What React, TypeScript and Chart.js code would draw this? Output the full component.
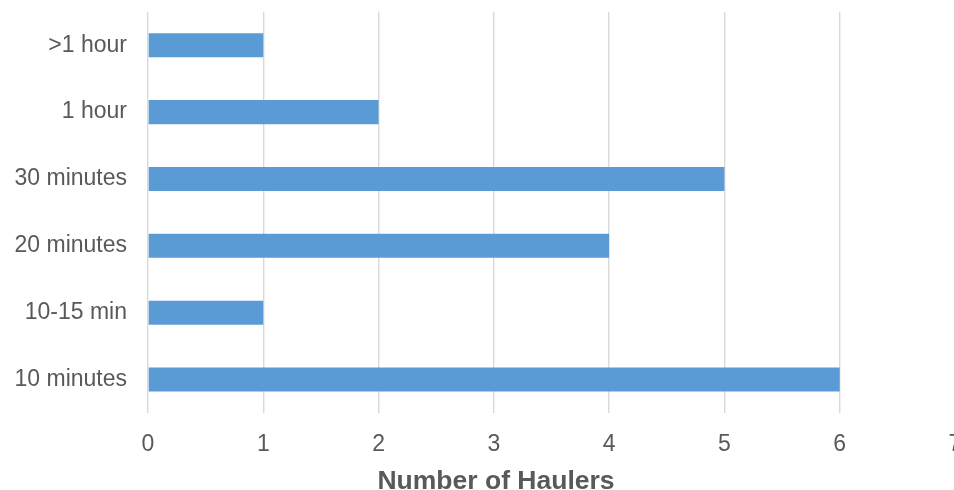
import React, { useEffect, useRef } from "react";
import { Chart, registerables } from "chart.js";

Chart.register(...registerables);

// Wait times (top to bottom) and how many haulers reported each
const categories = [">1 hour", "1 hour", "30 minutes", "20 minutes", "10-15 min", "10 minutes"];
const haulerCounts = [1, 2, 5, 4, 1, 6];
const xMin = 0;
const xMax = 7;
const xStep = 1;
const xTitle = "Number of Haulers";

const CANVAS_W = 1000;
const CANVAS_H = 524;
const CANVAS_TOP = -23;

// Axis title drawn below the tick labels, centred on the visible figure
const axisTitlePlugin = {
  id: "axisTitle",
  afterDraw(chart: any) {
    const ctx = chart.ctx;
    ctx.save();
    ctx.font = "bold 26.5px 'Liberation Sans', Arial, sans-serif";
    ctx.fillStyle = "#595959";
    ctx.textAlign = "center";
    ctx.textBaseline = "alphabetic";
    ctx.fillText(xTitle, 496, 489 - CANVAS_TOP);
    ctx.restore();
  },
};

export default function App() {
  const canvasRef = useRef<HTMLCanvasElement | null>(null);

  useEffect(() => {
    const canvas = canvasRef.current;
    if (!canvas) return;
    const chart = new Chart(canvas, {
      type: "bar",
      data: {
        labels: categories,
        datasets: [
          {
            data: haulerCounts,
            backgroundColor: "#5b9bd5",
            borderWidth: 0,
            barPercentage: 0.72,
            categoryPercentage: 0.5,
          },
        ],
      },
      options: {
        indexAxis: "y",
        responsive: false,
        animation: false,
        devicePixelRatio: 1,
        layout: { padding: { top: 11, right: 45, left: 0, bottom: 0 } },
        plugins: {
          legend: { display: false },
          tooltip: { enabled: false },
        },
        scales: {
          x: {
            min: xMin,
            max: xMax,
            ticks: {
              stepSize: xStep,
              padding: 18,
              color: "#595959",
              font: { family: "'Liberation Sans', Arial, sans-serif", size: 23 },
            },
            grid: { color: "#d9d9d9", lineWidth: 1.4, drawTicks: false },
            border: { display: false },
            afterFit: (scale: any) => {
              scale.height = 88;
            },
          },
          y: {
            ticks: {
              padding: 21,
              color: "#595959",
              font: { family: "'Liberation Sans', Arial, sans-serif", size: 23 },
            },
            grid: { display: false, drawTicks: false },
            border: { display: false },
            afterFit: (scale: any) => {
              scale.width = 148;
            },
          },
        },
      },
      plugins: [axisTitlePlugin],
    });
    return () => chart.destroy();
  }, []);

  return (
    <div
      style={{
        position: "fixed",
        left: 0,
        top: 0,
        width: 954,
        height: 490,
        overflow: "hidden",
        background: "#ffffff",
      }}
    >
      <canvas
        ref={canvasRef}
        width={CANVAS_W}
        height={CANVAS_H}
        style={{
          display: "block",
          position: "absolute",
          left: 0,
          top: CANVAS_TOP,
          width: CANVAS_W,
          height: CANVAS_H,
        }}
      />
    </div>
  );
}
